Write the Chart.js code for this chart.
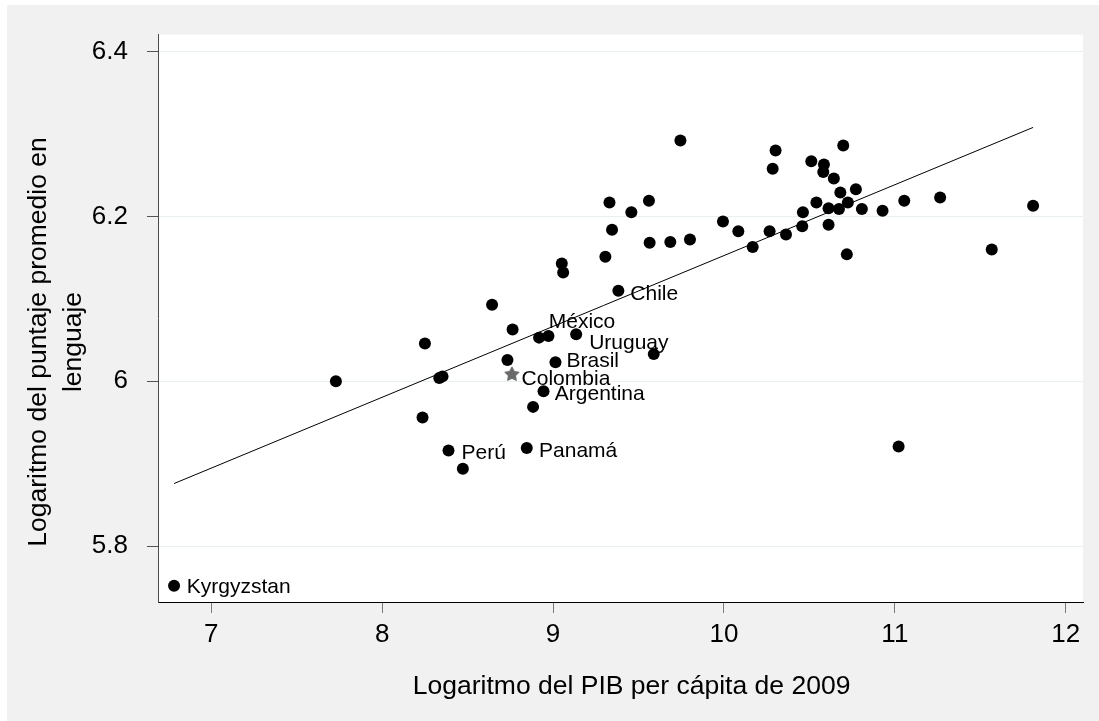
<!DOCTYPE html>
<html><head><meta charset="utf-8">
<script src="https://cdn.jsdelivr.net/npm/chart.js@4.4.1/dist/chart.umd.min.js"></script>
<style>html,body{margin:0;padding:0;background:#fff;}canvas{display:block;}</style>
</head><body>
<canvas id="c" width="1099" height="721"></canvas>
<script>
// ---- data ----
const logGDP = [6.782, 7.729, 8.236, 8.250, 8.334, 8.353, 8.388, 8.472, 8.643, 8.733,
  8.763, 8.846, 8.883, 8.918, 8.944, 8.973, 9.014, 9.051, 9.059, 9.135,
  9.306, 9.330, 9.345, 9.382, 9.458, 9.561, 9.565, 9.589, 9.686, 9.745,
  9.801, 9.994, 10.084, 10.168, 10.267, 10.285, 10.302, 10.363, 10.458, 10.462,
  10.511, 10.541, 10.581, 10.585, 10.612, 10.612, 10.643, 10.673, 10.681, 10.698,
  10.719, 10.725, 10.772, 10.807, 10.928, 11.022, 11.055, 11.265, 11.567, 11.809];
const logLang = [5.752, 6.000, 5.956, 6.046, 6.004, 6.006, 5.916, 5.894, 6.093, 6.026,
  6.063, 5.919, 5.969, 6.053, 5.988, 6.055, 6.023, 6.143, 6.132, 6.057,
  6.151, 6.217, 6.184, 6.110, 6.205, 6.219, 6.168, 6.033, 6.169, 6.292,
  6.172, 6.194, 6.182, 6.163, 6.182, 6.258, 6.280, 6.178, 6.188, 6.205,
  6.267, 6.217, 6.254, 6.263, 6.210, 6.190, 6.246, 6.209, 6.229, 6.286,
  6.154, 6.217, 6.233, 6.209, 6.207, 5.921, 6.219, 6.223, 6.160, 6.213];
const countryNames = ['Kyrgyzstan','','','','','','Perú','','','',
  '','Panamá','','México','Argentina','','Brasil','','','Uruguay',
  '','','','Chile','','','','','','',
  '','','','','','','','','','',
  '','','','','','','','','','',
  '','','','','','','','','',''];
const colombiaX = [8.759];
const colombiaY = [6.009];
const colombiaName = ['Colombia'];
const fitX = [6.782, 11.809];
const fitY = [5.876, 6.308];
const xTicks = [7, 8, 9, 10, 11, 12];
const yTicks = [5.8, 6, 6.2, 6.4];
const xTitle = 'Logaritmo del PIB per cápita de 2009';
const yTitleLines = ['Logaritmo del puntaje promedio en', 'lenguaje'];

// ---- styles ----
const FONT = "'Liberation Sans', Arial, Helvetica, sans-serif";
const labelOffsets = {
  'Kyrgyzstan':[12.7,0], 'Perú':[13,0.7], 'Panamá':[12.3,1], 'Argentina':[11.3,1.6],
  'Colombia':[9.7,3.4], 'Brasil':[11,-2.5], 'México':[9.7,-17.2], 'Uruguay':[13,7.5], 'Chile':[12,1.4]
};

function makeStar(){
  const c = document.createElement('canvas');
  c.width = 16; c.height = 16;
  const g = c.getContext('2d');
  g.fillStyle = '#6a6a6a';
  g.beginPath();
  const R = 7.2, r = 3.6;
  for (let i = 0; i < 10; i++) {
    const ang = -Math.PI/2 + i*Math.PI/5;
    const rad = i % 2 === 0 ? R : r;
    const px = 8 + rad*Math.cos(ang), py = 8.5 + rad*Math.sin(ang);
    if (i === 0) g.moveTo(px, py); else g.lineTo(px, py);
  }
  g.closePath(); g.fill();
  g.lineJoin = 'round'; g.strokeStyle = '#6a6a6a'; g.lineWidth = 1.2; g.stroke();
  return c;
}

const mainPts = logGDP.map((x, i) => ({x, y: logLang[i], name: countryNames[i]}));
const colPts = colombiaX.map((x, i) => ({x, y: colombiaY[i], name: colombiaName[i]}));
const fitPts = fitX.map((x, i) => ({x, y: fitY[i]}));

const bgPlugin = {
  id: 'bg',
  beforeDraw(chart){
    const {ctx, chartArea: a} = chart;
    ctx.save();
    ctx.fillStyle = '#ffffff'; ctx.fillRect(0, 0, chart.width, chart.height);
    ctx.fillStyle = '#f1f1f1'; ctx.fillRect(7, 5, chart.width - 7, chart.height - 5);
    ctx.fillStyle = '#ffffff'; ctx.fillRect(a.left, a.top, a.right - a.left, a.bottom - a.top);
    ctx.restore();
  }
};

const textPlugin = {
  id: 'texts',
  afterDraw(chart){
    const {ctx, scales} = chart;
    ctx.save();
    // point labels
    ctx.fillStyle = '#000';
    ctx.font = '21px ' + FONT;
    ctx.textAlign = 'left';
    ctx.textBaseline = 'alphabetic';
    [...mainPts, ...colPts].forEach(p => {
      if (!p.name) return;
      const off = labelOffsets[p.name] || [12, 0];
      const px = scales.x.getPixelForValue(p.x) + off[0];
      const py = scales.y.getPixelForValue(p.y) + off[1] + 0.358*21;
      ctx.fillText(p.name, px, py);
    });
    // x title
    ctx.font = '26.5px ' + FONT;
    ctx.textAlign = 'center';
    ctx.fillText(xTitle, 631.6, 694.3);
    // y title
    const base = [46, 80.5];
    yTitleLines.forEach((t, i) => {
      ctx.save();
      ctx.translate(base[i], 342);
      ctx.rotate(-Math.PI/2);
      ctx.fillText(t, 0, 0);
      ctx.restore();
    });
    ctx.restore();
  }
};

new Chart(document.getElementById('c'), {
  type: 'scatter',
  data: {
    datasets: [
      { label: 'fit', data: fitPts, showLine: true, borderColor: '#000', borderWidth: 1,
        pointRadius: 0, order: 0 },
      { label: 'Colombia', data: colPts, pointStyle: makeStar(), pointRadius: 8, order: 1 },
      { label: 'países', data: mainPts, pointRadius: 6, pointBackgroundColor: '#000',
        pointBorderWidth: 0, borderWidth: 0, order: 2 }
    ]
  },
  options: {
    responsive: false,
    animation: false,
    devicePixelRatio: 1,
    layout: { padding: { top: 33, right: 16, left: 0, bottom: 0 } },
    plugins: { legend: { display: false }, tooltip: { enabled: false } },
    scales: {
      x: {
        type: 'linear', min: 6.688, max: 12.101,
        afterBuildTicks: s => { s.ticks = xTicks.map(v => ({value: v})); },
        afterFit: s => { s.height = 119; },
        ticks: { font: { size: 26, family: FONT, lineHeight: 1.2 }, color: '#000', padding: 6,
                 callback: v => String(v), maxRotation: 0, autoSkip: false },
        grid: { drawOnChartArea: false, drawTicks: true, tickLength: 11, tickColor: '#7a7a7a', tickWidth: 1 },
        border: { color: '#000', width: 1 },
        title: { display: false }
      },
      y: {
        type: 'linear', min: 5.7323, max: 6.4206,
        afterBuildTicks: s => { s.ticks = yTicks.map(v => ({value: v})); },
        afterFit: s => { s.width = 158; },
        ticks: { font: { size: 26, family: FONT, lineHeight: 1.2 }, color: '#000', padding: 19,
                 callback: v => String(v), autoSkip: false },
        grid: { color: '#e9f0f0', lineWidth: 1, drawTicks: true, tickLength: 11, tickColor: '#555', tickWidth: 1 },
        border: { color: '#4a4a4a', width: 1 },
        title: { display: false }
      }
    }
  },
  plugins: [bgPlugin, textPlugin]
});
</script>
</body></html>
